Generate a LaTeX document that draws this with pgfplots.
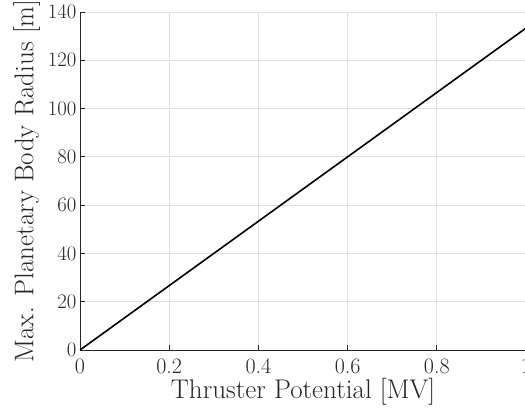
\documentclass[border=0pt]{standalone}
\usepackage{pgfplots}
\pgfplotsset{compat=1.18}
\definecolor{gridc}{RGB}{223,223,223}
\definecolor{axc}{RGB}{38,38,38}
\begin{document}
\begin{tikzpicture}
\begin{axis}[
  at={(0,0)}, anchor=south west,
  scale only axis,
  width=446pt, height=338pt,
  xmin=0, xmax=1, ymin=0, ymax=140,
  axis x line=bottom, axis y line=left,
  axis line style={axc, line width=0.8pt, -},
  xtick={0,0.2,0.4,0.6,0.8,1},
  xticklabels={0,0.2,0.4,0.6,0.8,1},
  ytick={0,20,40,60,80,100,120,140},
  tick align=inside,
  major tick length=5pt,
  tick style={axc, line width=0.8pt},
  grid=major,
  major grid style={gridc, line width=0.8pt},
  ticklabel style={font=\fontsize{22}{26}\selectfont, text=axc},
  xticklabel style={yshift=-5pt},
  label style={font=\fontsize{27}{32}\selectfont, text=axc},
  xlabel={Thruster Potential [MV]},
  ylabel={Max. Planetary Body Radius [m]},
  xlabel style={yshift=2pt},
  ylabel style={yshift=1pt},
]
\addplot[black, line width=1.6pt] coordinates {(0,0) (1,133.33)};
\end{axis}
\pgfresetboundingbox
\path (-80pt,-66pt) rectangle (445pt,350pt);
\end{tikzpicture}
\end{document}
